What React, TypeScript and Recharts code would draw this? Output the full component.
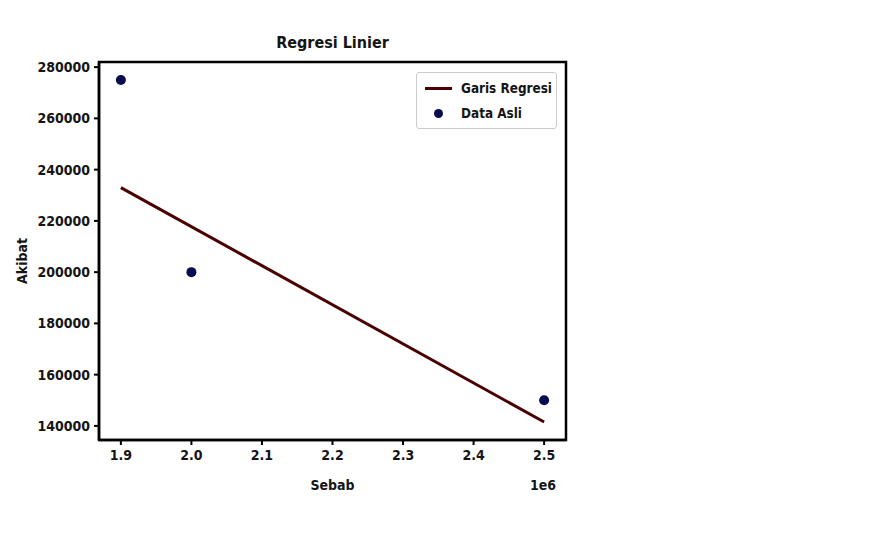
import { ComposedChart, Line, Scatter, XAxis, YAxis, ReferenceArea } from "recharts";

const sebab = [1900000, 2000000, 2500000];
const akibat = [275000, 200000, 150000];
const garisX = [1900000, 2500000];
const garisY = [233000, 141500];
const xTicks = [1900000, 2000000, 2100000, 2200000, 2300000, 2400000, 2500000];
const yTicks = [140000, 160000, 180000, 200000, 220000, 240000, 260000, 280000];

const dataAsli = sebab.map((x, i) => ({ x, y: akibat[i] }));
const garis = garisX.map((x, i) => ({ x, y: garisY[i] }));

const FONT = "'DejaVu Sans Condensed', 'DejaVu Sans', sans-serif";
const TXT = { fontFamily: FONT, fontWeight: 700 as const, color: "#151515" };
const LINE_COLOR = "#4a0000";
const DOT_COLOR = "#0b0b4f";
const X_DOMAIN = [1869000, 2531000];
const Y_DOMAIN = [134500, 282000];

function LegendBox() {
  return (
    <div style={{ position: "absolute", left: 416, top: 72, boxSizing: "border-box", width: 141, height: 57, border: "1px solid #cccccc", borderRadius: 3, background: "#fff", padding: "3px 0 0 8px", fontSize: 13.4, lineHeight: "25px", whiteSpace: "nowrap", ...TXT }}>
      <div style={{ display: "flex", alignItems: "center" }}>
        <span style={{ display: "inline-block", width: 27, height: 3, background: LINE_COLOR, marginRight: 9 }} />
        Garis Regresi
      </div>
      <div style={{ display: "flex", alignItems: "center" }}>
        <span style={{ display: "inline-block", width: 27, marginRight: 9, textAlign: "center", lineHeight: 0 }}>
          <span style={{ display: "inline-block", width: 9, height: 9, borderRadius: "50%", background: DOT_COLOR }} />
        </span>
        Data Asli
      </div>
    </div>
  );
}

export default function App() {
  return (
    <div style={{ position: "absolute", left: 0, top: 0, width: 876, height: 539, background: "#fff" }}>
      <ComposedChart width={876} height={539} margin={{ top: 62, right: 310, bottom: 0, left: 0 }}>
        <XAxis
          type="number"
          dataKey="x"
          domain={X_DOMAIN}
          ticks={xTicks}
          allowDataOverflow
          height={99}
          tickSize={5}
          tickMargin={5}
          tickFormatter={(v: number) => (v / 1e6).toFixed(1)}
          tick={{ fill: "#151515", fontSize: 14, fontFamily: FONT, fontWeight: 700 }}
          axisLine={{ stroke: "#000", strokeWidth: 2.5 }}
          tickLine={{ stroke: "#000", strokeWidth: 2 }}
        />
        <YAxis
          type="number"
          dataKey="y"
          domain={Y_DOMAIN}
          ticks={yTicks}
          allowDataOverflow
          width={99}
          tickSize={5}
          tickMargin={4}
          tick={{ fill: "#151515", fontSize: 14, fontFamily: FONT, fontWeight: 700 }}
          axisLine={{ stroke: "#000", strokeWidth: 2.5 }}
          tickLine={{ stroke: "#000", strokeWidth: 2 }}
        />
        <ReferenceArea x1={X_DOMAIN[0]} x2={X_DOMAIN[1]} y1={Y_DOMAIN[0]} y2={Y_DOMAIN[1]} fill="none" fillOpacity={0} stroke="#000" strokeWidth={2.5} ifOverflow="visible" />
        <Line data={garis} dataKey="y" name="Garis Regresi" stroke={LINE_COLOR} strokeWidth={3} dot={false} isAnimationActive={false} type="linear" />
        <Scatter data={dataAsli} dataKey="y" name="Data Asli" fill={DOT_COLOR} isAnimationActive={false} shape={(p: any) => <circle cx={p.cx} cy={p.cy} r={5} fill={DOT_COLOR} />} />
      </ComposedChart>
      <div style={{ position: "absolute", left: 99, width: 467, top: 33, textAlign: "center", fontSize: 16, ...TXT }}>Regresi Linier</div>
      <div style={{ position: "absolute", left: 22, top: 261, transform: "translate(-50%, -50%) rotate(-90deg)", fontSize: 14, ...TXT }}>Akibat</div>
      <div style={{ position: "absolute", left: 99, width: 467, top: 477, textAlign: "center", fontSize: 14, ...TXT }}>Sebab</div>
      <div style={{ position: "absolute", left: 530, top: 477, fontSize: 14, ...TXT }}>1e6</div>
      <LegendBox />
    </div>
  );
}
